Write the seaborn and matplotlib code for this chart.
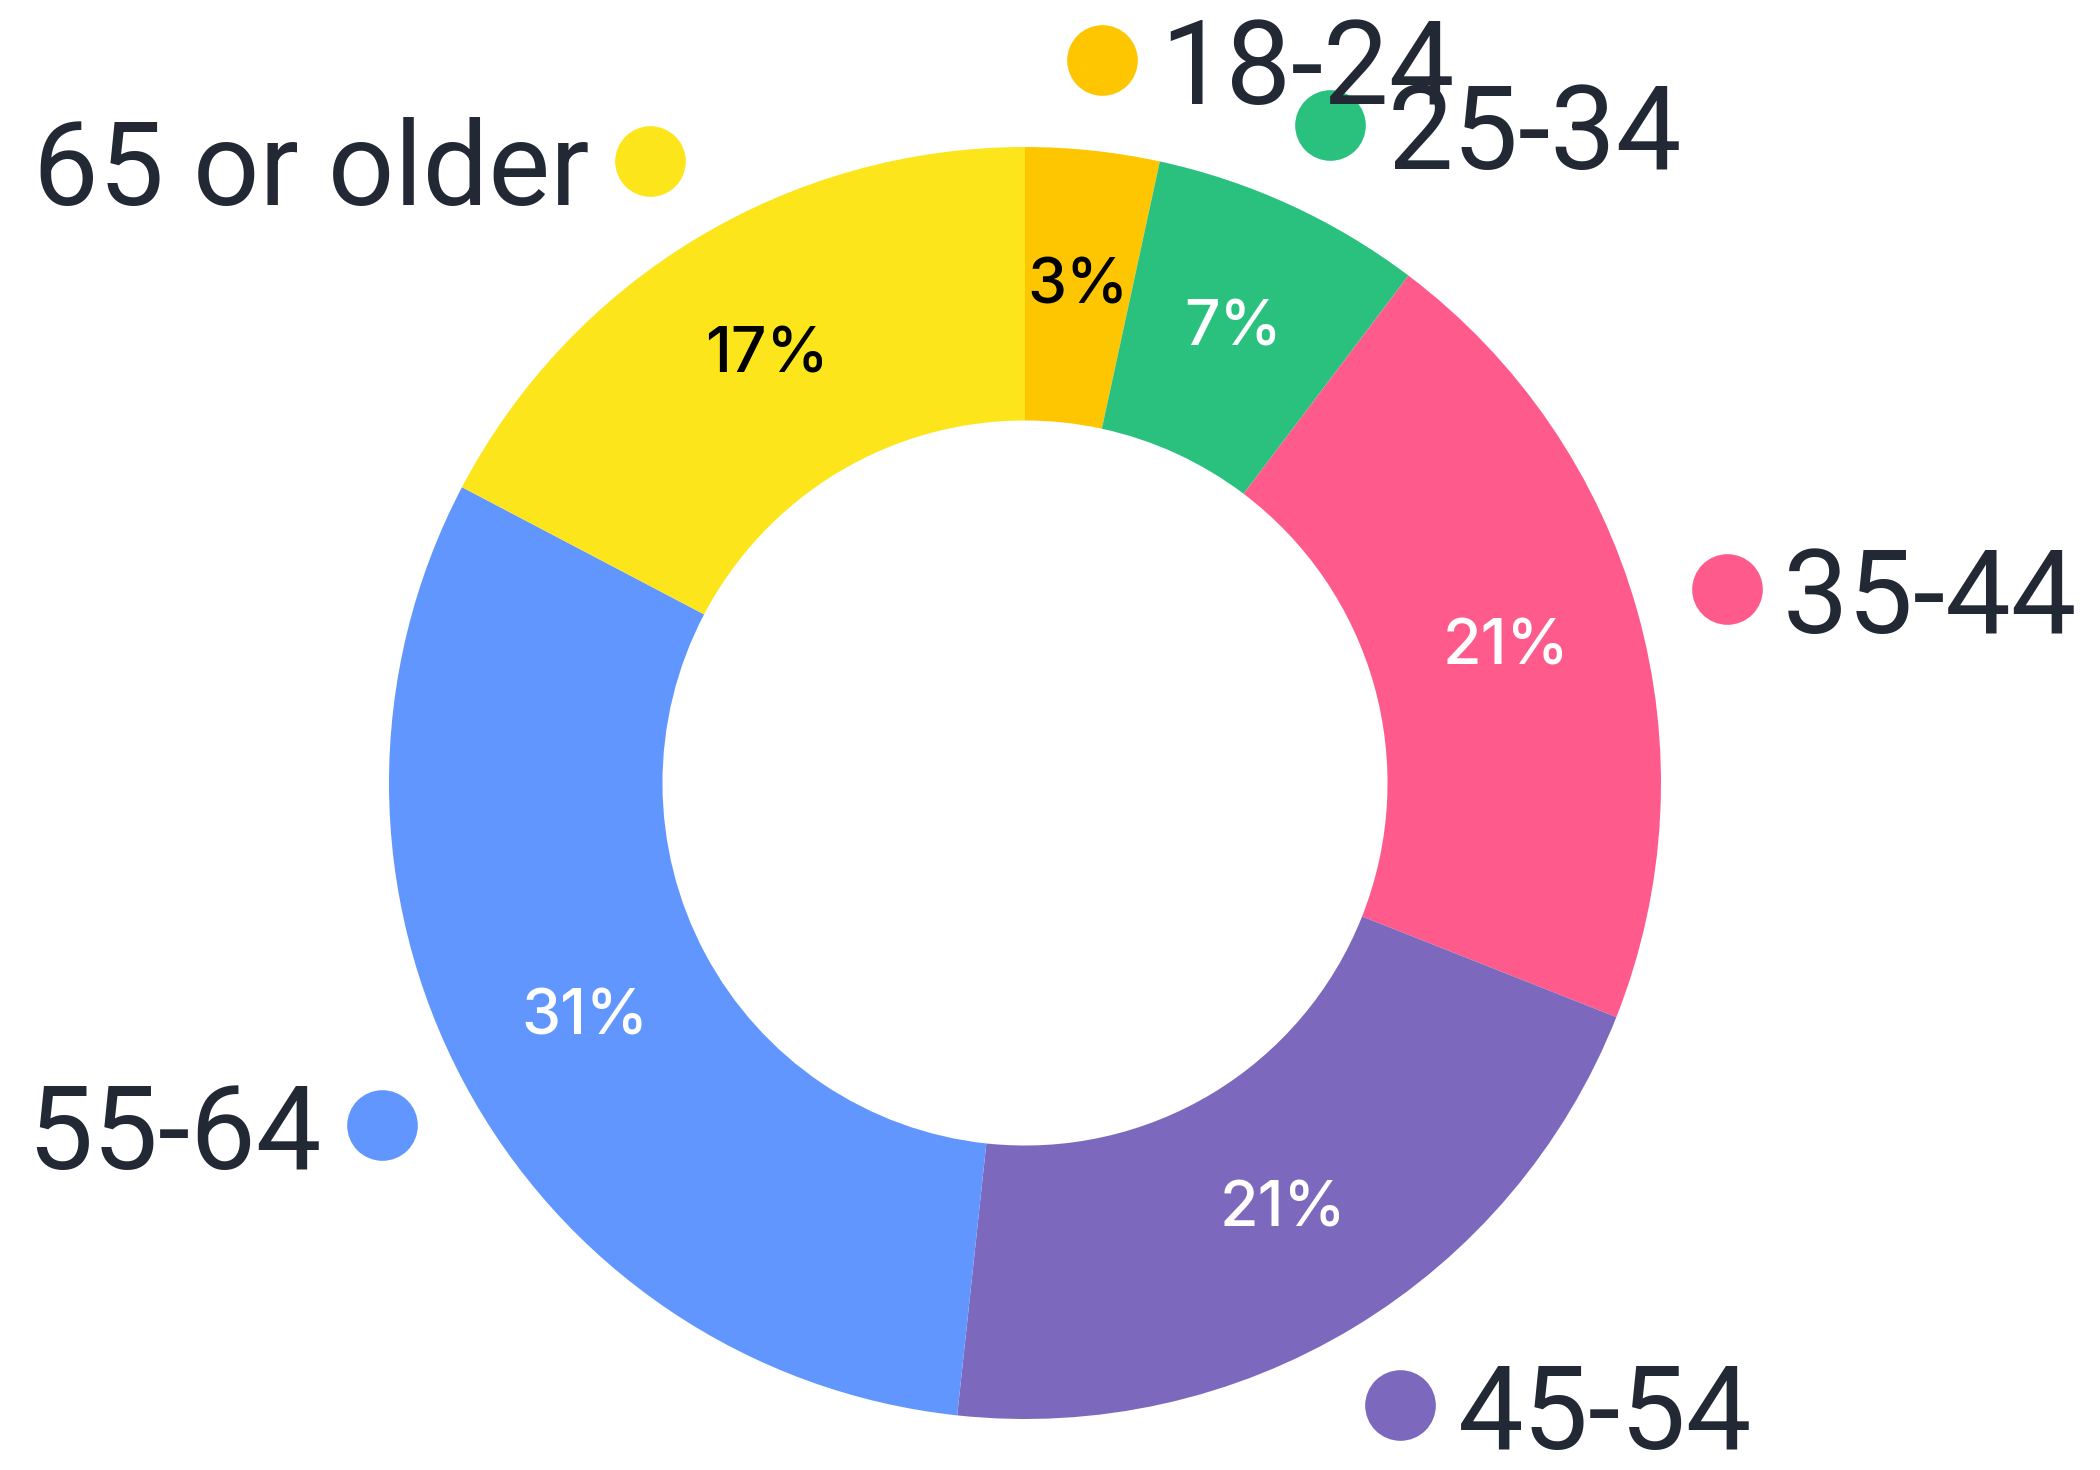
import matplotlib
matplotlib.use("Agg")
import matplotlib.pyplot as plt
import seaborn as sns

# age groups, clockwise from 12 o'clock
groups = ["18-24", "25-34", "35-44", "45-54", "55-64", "65 or older"]
shares = [3.4, 6.9, 20.7, 20.7, 31.0, 17.3]
pct_labels = ["3%", "7%", "21%", "21%", "31%", "17%"]
colors = ["#FEC601", "#2AC17E", "#FE5B8C", "#7C69BD", "#6196FE", "#FDE51B"]
pct_colors = ["black", "white", "white", "white", "white", "black"]

sns.set_theme(style="white")
plt.rcParams["font.family"] = ["Roboto", "DejaVu Sans"]

W, H = 2100, 1470
fig = plt.figure(figsize=(14, 9.8), dpi=150)
ax = fig.add_axes([0, 0, 1, 1])

cx, cy, R = 1025, H - 783, 636
wedges, _, autotexts = ax.pie(
    shares, colors=colors, startangle=90, counterclock=False,
    center=(cx, cy), radius=R, frame=True,
    autopct="%1.0f%%", pctdistance=0.785,
    wedgeprops=dict(width=R * 0.43, linewidth=0))
ax.set_xlim(0, W)
ax.set_ylim(0, H)
ax.axis("off")
for t, lab, c in zip(autotexts, pct_labels, pct_colors):
    t.set_text(lab)
    t.set_color(c)
    t.set_fontsize(30)
    t.set_fontweight("medium")
    t.set_family(["Inter", "DejaVu Sans"])

# outside labels: (dot x, dot y, text x, side) in image pixels
layout = {
    "18-24": (1102, 60, 1160, "left"),
    "25-34": (1330, 125, 1388, "left"),
    "35-44": (1727, 589, 1783, "left"),
    "45-54": (1400, 1405, 1458, "left"),
    "55-64": (382, 1125, 322, "right"),
    "65 or older": (650, 161, 590, "right"),
}
for g, c in zip(groups, colors):
    dx, dy, tx, side = layout[g]
    ax.scatter([dx], [H - dy], s=1150, color=c, linewidths=0, zorder=3)
    ax.text(tx, H - dy, g, ha=side, va="center_baseline",
            fontsize=56, color="#222935", zorder=4)

fig.savefig("out.png", dpi=150)
